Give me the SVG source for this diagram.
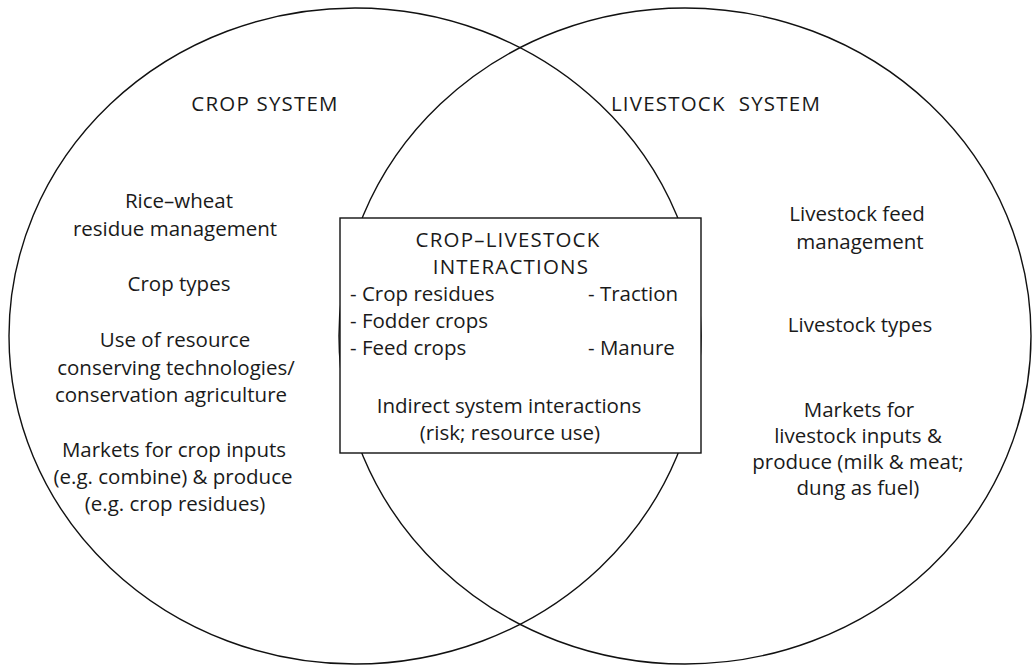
<svg xmlns="http://www.w3.org/2000/svg" width="1033" height="665" viewBox="0 0 1033 665">
<style>
text{font-family:"Open Sans",Lato,"Liberation Sans",sans-serif;font-size:20.5px;fill:#1a1a1a}
.c{text-anchor:middle}
.cap{letter-spacing:1.2px}
.ring{fill:none;stroke:#111;stroke-width:1.4}
.box{fill:#fff;stroke:#111;stroke-width:1.4}
</style>
<rect width="1033" height="665" fill="#fff"/>
<g id="crop-system">
<ellipse class="ring" cx="355" cy="336" rx="346" ry="328"/>
<text class="c cap" x="265" y="111">CROP SYSTEM</text>
<text class="c" x="179" y="208">Rice–wheat</text>
<text class="c" x="175" y="236">residue management</text>
<text class="c" x="179" y="291">Crop types</text>
<text class="c" x="175" y="347">Use of resource</text>
<text class="c" x="176" y="375">conserving technologies/</text>
<text class="c" x="171" y="402">conservation agriculture</text>
<text class="c" x="174" y="457">Markets for crop inputs</text>
<text class="c" x="173" y="484">(e.g. combine) &amp; produce</text>
<text class="c" x="175" y="511">(e.g. crop residues)</text>
</g>
<g id="livestock-system">
<ellipse class="ring" cx="685" cy="336" rx="346" ry="328"/>
<text class="c cap" x="716" y="111" xml:space="preserve">LIVESTOCK  SYSTEM</text>
<text class="c" x="857" y="221">Livestock feed</text>
<text class="c" x="860" y="249">management</text>
<text class="c" x="860" y="332">Livestock types</text>
<text class="c" x="859" y="417">Markets for</text>
<text class="c" x="858" y="443">livestock inputs &amp;</text>
<text class="c" x="858" y="469">produce (milk &amp; meat;</text>
<text class="c" x="858" y="495">dung as fuel)</text>
</g>
<g id="interactions">
<rect class="box" x="340" y="218" width="361" height="235"/>
<text class="c cap" x="508" y="247">CROP–LIVESTOCK</text>
<text class="c cap" x="511" y="274">INTERACTIONS</text>
<text x="350" y="301">- Crop residues</text>
<text x="588" y="301">- Traction</text>
<text x="350" y="328">- Fodder crops</text>
<text x="350" y="355">- Feed crops</text>
<text x="588" y="355">- Manure</text>
<text class="c" x="509" y="413">Indirect system interactions</text>
<text class="c" x="510" y="440">(risk; resource use)</text>
</g>
<g id="connectors"/>
</svg>
